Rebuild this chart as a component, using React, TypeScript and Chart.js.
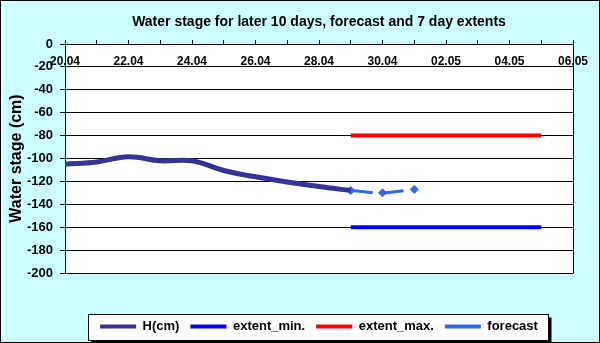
import React, { useEffect, useRef } from 'react';
import { Chart, registerables } from 'chart.js';

Chart.register(...registerables);

// ---- data ----
const dates = ['20.04', '21.04', '22.04', '23.04', '24.04', '25.04', '26.04', '27.04', '28.04', '29.04',
  '30.04', '01.05', '02.05', '03.05', '04.05', '05.05', '06.05'];
const hDates = ['20.04', '21.04', '22.04', '23.04', '24.04', '25.04', '26.04', '27.04', '28.04', '29.04'];
const hValues = [-105, -103, -98.5, -102, -102, -110.5, -116, -120.5, -124.5, -128];
const extentDates = ['29.04', '30.04', '01.05', '02.05', '03.05', '04.05', '05.05'];
const extentMin = [-160, -160, -160, -160, -160, -160, -160];
const extentMax = [-80, -80, -80, -80, -80, -80, -80];
const forecastDates = ['29.04', '30.04', '01.05'];
const forecastValues = [-128, -130, -127];
const seriesNames = ['H(cm)', 'extent_min.', 'extent_max.', 'forecast'];
const yMin = -200;
const yMax = 0;
const yStep = 20;

const FONT = '"Liberation Sans", Arial, sans-serif';

const pts = (xs: string[], ys: number[]) => xs.map((x, i) => ({ x, y: ys[i] }));

const decor = {
  id: 'decor',
  beforeDraw(chart: any) {
    const { ctx, width, height, chartArea, legend } = chart;
    ctx.save();
    ctx.fillStyle = '#ccffff';
    ctx.fillRect(0, 0, width, height);
    ctx.strokeStyle = '#000';
    ctx.lineWidth = 1;
    ctx.strokeRect(0.5, 0.5, width - 1, height - 1);
    ctx.fillStyle = '#ffffff';
    ctx.fillRect(chartArea.left, chartArea.top, chartArea.right - chartArea.left, chartArea.bottom - chartArea.top);
    // legend frame
    const hb = legend && legend.legendHitBoxes;
    if (hb && hb.length) {
      const first = hb[0];
      const last = hb[hb.length - 1];
      const cy = first.top + first.height / 2;
      const l = Math.round(first.left - 12) + 0.5;
      const r = Math.round(last.left + last.width + 10) + 0.5;
      const t = Math.round(cy - 13) + 0.5;
      const b = Math.round(cy + 13) + 0.5;
      ctx.fillStyle = '#000';
      ctx.fillRect(l + 3, t + 3, r - l, b - t);
      ctx.fillStyle = '#fff';
      ctx.fillRect(l, t, r - l, b - t);
      ctx.strokeRect(l, t, r - l, b - t);
    }
    ctx.restore();
  },
  beforeDatasetsDraw(chart: any) {
    const { ctx, chartArea } = chart;
    ctx.save();
    ctx.strokeStyle = '#000';
    ctx.lineWidth = 1;
    ctx.beginPath();
    ctx.moveTo(Math.round(chartArea.right) + 0.5, chartArea.top);
    ctx.lineTo(Math.round(chartArea.right) + 0.5, chartArea.bottom + 0.5);
    ctx.stroke();
    ctx.restore();
  },
};

export default function App() {
  const ref = useRef<HTMLCanvasElement>(null);
  useEffect(() => {
    document.body.style.margin = '0';
    const canvas = ref.current!;
    const chart = new Chart(canvas, {
      type: 'line',
      data: {
        datasets: [
          {
            label: seriesNames[0],
            data: pts(hDates, hValues),
            borderColor: '#333399',
            backgroundColor: '#333399',
            borderWidth: 5,
            pointRadius: 0,
            tension: 0.4,
          },
          {
            label: seriesNames[1],
            data: pts(extentDates, extentMin),
            borderColor: '#0000ff',
            backgroundColor: '#0000ff',
            borderWidth: 4,
            pointRadius: 0,
          },
          {
            label: seriesNames[2],
            data: pts(extentDates, extentMax),
            borderColor: '#ff0000',
            backgroundColor: '#ff0000',
            borderWidth: 4,
            pointRadius: 0,
          },
          {
            label: seriesNames[3],
            data: pts(forecastDates, forecastValues),
            borderColor: '#3366ff',
            backgroundColor: '#3366ff',
            borderWidth: 3,
            borderDash: [22, 9],
            pointStyle: 'rectRot',
            pointRadius: 4,
            pointBorderWidth: 1,
            tension: 0.3,
          },
        ],
      },
      options: {
        responsive: false,
        animation: false,
        layout: { padding: { left: 0, right: 27, top: 0, bottom: 0 } },
        scales: {
          x: {
            type: 'category',
            labels: dates,
            offset: false,
            position: { y: 0 } as any,
            afterFit: (s: any) => { s.height = 0; s.paddingLeft = 0; s.paddingRight = 0; },
            grid: { drawOnChartArea: false, drawTicks: true, tickLength: -5, color: '#000' },
            border: { color: '#000', width: 1 },
            ticks: {
              autoSkip: false,
              maxRotation: 0,
              minRotation: 0,
              padding: 15,
              color: '#000',
              font: { family: FONT, size: 12, weight: 'bold' },
              callback: (_v: any, i: number) => (i % 2 === 0 ? dates[i] : ''),
            },
          },
          y: {
            min: yMin,
            max: yMax,
            afterFit: (s: any) => { s.width = 65; },
            grid: { color: '#000', tickLength: 5, lineWidth: 1 },
            border: { color: '#000', width: 1 },
            ticks: {
              stepSize: yStep,
              padding: 7,
              color: '#000',
              font: { family: FONT, size: 13, weight: 'bold' },
            },
            title: {
              display: true,
              text: 'Water stage (cm)',
              color: '#000',
              font: { family: FONT, size: 16, weight: 'bold' },
              padding: { top: 7, bottom: 0 },
            },
          },
        },
        plugins: {
          title: {
            display: true,
            fullSize: false,
            text: 'Water stage for later 10 days, forecast and 7 day extents',
            color: '#000',
            font: { family: FONT, size: 14, weight: 'bold' },
            padding: { top: 14, bottom: 13.2 },
          },
          legend: {
            position: 'bottom',
            fullSize: false,
            title: { display: true, text: '', font: { size: 10 }, padding: { top: 24, bottom: 0 } },
            labels: {
              boxWidth: 36,
              boxHeight: 4,
              padding: 11,
              color: '#000',
              font: { family: FONT, size: 13, weight: 'bold' },
              generateLabels: (c: any) =>
                Chart.defaults.plugins.legend.labels.generateLabels(c).map((l: any) => ({ ...l, lineWidth: 0 })),
            },
          },
          tooltip: { enabled: false },
        },
      },
      plugins: [decor],
    } as any);
    return () => chart.destroy();
  }, []);
  return <canvas ref={ref} width={600} height={343} style={{ display: 'block' }} />;
}
